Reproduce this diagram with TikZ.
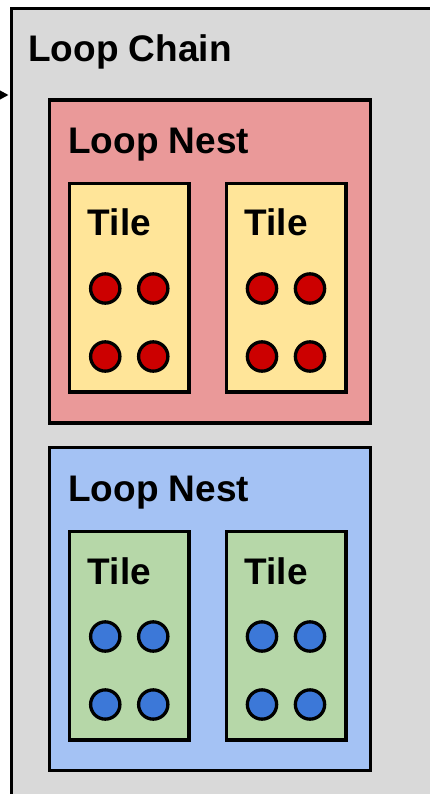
\documentclass[tikz,border=0pt]{standalone}
\usepackage{fontspec}
\setmainfont{Liberation Sans}
\usetikzlibrary{arrows.meta}
\definecolor{chaingray}{HTML}{D9D9D9}
\definecolor{nestred}{HTML}{EA9999}
\definecolor{tileyellow}{HTML}{FFE599}
\definecolor{dotred}{HTML}{CC0000}
\definecolor{nestblue}{HTML}{A4C2F4}
\definecolor{tilegreen}{HTML}{B6D7A8}
\definecolor{dotblue}{HTML}{3C78D8}
\tikzset{
  boxline/.style={draw=black, line width=3.5pt, line join=miter},
  nestbox/.style={boxline, rectangle, minimum width=321pt, minimum height=323pt, inner sep=0pt},
  tilebox/.style={boxline, rectangle, minimum width=119.5pt, minimum height=208.5pt, inner sep=0pt},
  dot/.style={boxline, line width=3.3pt, circle, minimum size=29.3pt, inner sep=0pt},
  title/.style={anchor=base west, inner sep=0pt, font=\fontsize{37}{40}\selectfont\bfseries},
}
\begin{document}
\begin{tikzpicture}[x=1pt, y=-1pt]
  \useasboundingbox (0,0) rectangle (430,794);
  \clip (0,0) rectangle (430,794);

  % loop chain: open to the right and bottom of the page
  \node[boxline, line width=3pt, fill=chaingray, rectangle, inner sep=0pt, anchor=north west,
        minimum width=440pt, minimum height=800pt] (chain) at (10,7.5) {};
  \node[title] (chaintitle) at (28,62) {Loop Chain};

  % incoming arrow on the left edge
  \coordinate (feed) at (-8,95);
  \draw[line width=2pt, -{Triangle[length=9pt, width=9pt]}] (feed) -- ([xshift=-1.5pt]feed -| chain.west);

  % first loop nest (red dots on yellow tiles)
  \node[nestbox, fill=nestred] (nestA) at (210,261.5) {};
  \node[title] (nestAtitle) at (68,154) {Loop Nest};
  \foreach \t/\cx in {1/129.25, 2/286} {
    \node[tilebox, fill=tileyellow] (tileA\t) at (\cx,287.75) {};
    \node[title] (tileAtitle\t) at ([xshift=20pt]tileA\t.north west |- 0,236) {Tile};
    \foreach \i/\dx in {1/-24, 2/24}
      \foreach \j/\dy in {1/0.75, 2/68.75}
        \node[dot, fill=dotred] (dotA\t\i\j) at ([xshift=\dx pt, yshift=-\dy pt]tileA\t.center) {};
  }

  % second loop nest (blue dots on green tiles)
  \node[nestbox, fill=nestblue] (nestB) at (210,608.75) {};
  \node[title] (nestBtitle) at (68,501) {Loop Nest};
  \foreach \t/\cx in {1/129.25, 2/286} {
    \node[tilebox, fill=tilegreen] (tileB\t) at (\cx,635.75) {};
    \node[title] (tileBtitle\t) at ([xshift=20pt]tileB\t.north west |- 0,584) {Tile};
    \foreach \i/\dx in {1/-24, 2/24}
      \foreach \j/\dy in {1/0.75, 2/68.75}
        \node[dot, fill=dotblue] (dotB\t\i\j) at ([xshift=\dx pt, yshift=-\dy pt]tileB\t.center) {};
  }
\end{tikzpicture}
\end{document}
